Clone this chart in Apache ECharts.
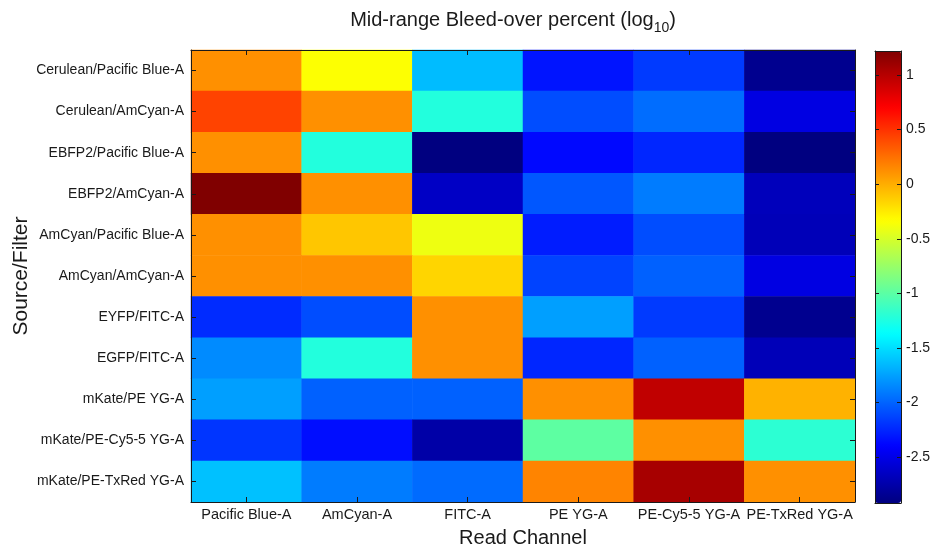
<!DOCTYPE html>
<html>
<head>
<meta charset="utf-8">
<script src="https://cdn.jsdelivr.net/npm/echarts@6/dist/echarts.min.js"></script>
<style>
  html, body { margin: 0; padding: 0; background: #ffffff; }
  #chart { width: 932px; height: 548px; }
</style>
</head>
<body>
<div id="chart"></div>
<script>
// Read channels (columns) and source/filter pairs (rows, top to bottom)
const readChannels = ['Pacific Blue-A', 'AmCyan-A', 'FITC-A', 'PE YG-A', 'PE-Cy5-5 YG-A', 'PE-TxRed YG-A'];
const sourceFilters = [
  'Cerulean/Pacific Blue-A', 'Cerulean/AmCyan-A', 'EBFP2/Pacific Blue-A', 'EBFP2/AmCyan-A',
  'AmCyan/Pacific Blue-A', 'AmCyan/AmCyan-A', 'EYFP/FITC-A', 'EGFP/FITC-A',
  'mKate/PE YG-A', 'mKate/PE-Cy5-5 YG-A', 'mKate/PE-TxRed YG-A'
];

// Mid-range bleed-over, log10 percent, one list per source/filter in read-channel order
const ceruleanPacificBlue = [0.12, -0.34, -1.64, -2.32, -2.17, -2.86];
const ceruleanAmCyan      = [0.43, 0.12, -1.23, -2.09, -1.96, -2.52];
const ebfp2PacificBlue    = [0.12, -1.23, -2.92, -2.37, -2.25, -2.92];
const ebfp2AmCyan         = [1.22, 0.12, -2.64, -2.05, -1.90, -2.68];
const amcyanPacificBlue   = [0.12, -0.10, -0.40, -2.29, -2.09, -2.69];
const amcyanAmCyan        = [0.12, 0.12, -0.16, -2.13, -2.01, -2.52];
const eyfpFitc            = [-2.23, -2.09, 0.12, -1.76, -2.17, -2.86];
const egfpFitc            = [-1.84, -1.23, 0.12, -2.25, -2.01, -2.69];
const mkatePe             = [-1.76, -2.01, -2.01, 0.12, 0.96, -0.02];
const mkatePeCy55         = [-2.19, -2.35, -2.76, -0.99, 0.12, -1.19];
const mkatePeTxRed        = [-1.62, -1.90, -1.97, 0.17, 1.06, 0.12];

const rowValues = [
  ceruleanPacificBlue, ceruleanAmCyan, ebfp2PacificBlue, ebfp2AmCyan,
  amcyanPacificBlue, amcyanAmCyan, eyfpFitc, egfpFitc,
  mkatePe, mkatePeCy55, mkatePeTxRed
];

// Colour scale limits and colour-bar tick labels
const scaleMin = -2.92;
const scaleMax = 1.22;
const colorbarTicks = [1, 0.5, 0, -0.5, -1, -1.5, -2, -2.5];

// Jet colour map: piecewise linear, evenly spaced knots
const jet = ['#000080', '#0000ff', '#0080ff', '#00ffff', '#80ff80', '#ffff00', '#ff8000', '#ff0000', '#800000'];

const cells = [];
rowValues.forEach((vals, r) => vals.forEach((v, c) => cells.push([c, r, v])));

const FONT = '"Liberation Sans", Arial, Helvetica, sans-serif';
const INK = '#1a1a1a';

// Fresh style objects for each axis (ECharts merges into option objects)
const tick = () => ({ show: true, inside: true, length: 5, alignWithLabel: true, lineStyle: { color: INK, width: 1 } });
const line = () => ({ show: true, onZero: false, lineStyle: { color: INK, width: 1 } });
const AXIS_Z = 10;

const chart = echarts.init(document.getElementById('chart'), null, { renderer: 'canvas' });

chart.setOption({
  animation: false,
  backgroundColor: '#ffffff',
  textStyle: { fontFamily: FONT },
  graphic: [{
    type: 'text',
    x: 513,
    y: 10,
    z: 20,
    style: {
      text: '{a|Mid-range Bleed-over percent (log}{s|10}{a|)}',
      align: 'center',
      verticalAlign: 'top',
      rich: {
        a: { fontFamily: FONT, fontSize: 20, lineHeight: 25, verticalAlign: 'top', fill: INK },
        s: { fontFamily: FONT, fontSize: 14, lineHeight: 14, padding: [15, 0, 0, 0], verticalAlign: 'bottom', fill: INK }
      }
    }
  }],
  grid: [
    { left: 191, top: 50, width: 664, height: 452, outerBoundsMode: 'none', containLabel: false },
    { left: 875, top: 51, width: 26, height: 452, outerBoundsMode: 'none', containLabel: false }
  ],
  xAxis: [
    {
      type: 'category', gridIndex: 0, data: readChannels, position: 'bottom', z: AXIS_Z,
      axisLine: line(), axisTick: tick(), splitLine: { show: false },
      axisLabel: { color: INK, fontSize: 14.5, fontFamily: FONT, margin: 5, interval: 0 },
      name: 'Read Channel', nameLocation: 'middle', nameGap: 26, nameMoveOverlap: false,
      nameTextStyle: { color: INK, fontSize: 20, fontFamily: FONT }
    },
    {
      type: 'category', gridIndex: 0, data: readChannels, position: 'top', z: AXIS_Z,
      axisLine: line(), axisTick: tick(), axisLabel: { show: false }, splitLine: { show: false }
    },
    {
      type: 'value', gridIndex: 1, position: 'bottom', min: 0, max: 1, z: AXIS_Z,
      axisLine: line(), axisTick: { show: false }, axisLabel: { show: false }, splitLine: { show: false }
    },
    {
      type: 'value', gridIndex: 1, position: 'top', min: 0, max: 1, z: AXIS_Z,
      axisLine: line(), axisTick: { show: false }, axisLabel: { show: false }, splitLine: { show: false }
    }
  ],
  yAxis: [
    {
      type: 'category', gridIndex: 0, data: sourceFilters, inverse: true, position: 'left', z: AXIS_Z,
      axisLine: line(), axisTick: tick(), splitLine: { show: false },
      axisLabel: { color: INK, fontSize: 14, fontFamily: FONT, margin: 7, interval: 0 },
      name: 'Source/Filter', nameLocation: 'middle', nameGap: 159, nameRotate: 90, nameMoveOverlap: false,
      nameTextStyle: { color: INK, fontSize: 21, fontFamily: FONT }
    },
    {
      type: 'category', gridIndex: 0, data: sourceFilters, inverse: true, position: 'right', z: AXIS_Z,
      axisLine: line(), axisTick: tick(), axisLabel: { show: false }, splitLine: { show: false }
    },
    {
      type: 'value', gridIndex: 1, position: 'left', min: scaleMin, max: scaleMax, z: AXIS_Z,
      axisLine: line(),
      axisTick: { show: true, inside: true, length: 4, customValues: colorbarTicks, lineStyle: { color: INK } },
      axisLabel: { show: false }, splitLine: { show: false }
    },
    {
      type: 'value', gridIndex: 1, position: 'right', min: scaleMin, max: scaleMax, z: AXIS_Z,
      axisLine: line(),
      axisTick: { show: true, inside: true, length: 4, customValues: colorbarTicks, lineStyle: { color: INK } },
      axisLabel: { show: true, customValues: colorbarTicks, color: INK, fontSize: 14, fontFamily: FONT, margin: 5 },
      splitLine: { show: false }
    }
  ],
  visualMap: {
    type: 'continuous',
    seriesIndex: 0,
    min: scaleMin,
    max: scaleMax,
    calculable: false,
    hoverLink: false,
    left: 875,
    top: 51,
    padding: 0,
    z: 4,
    itemWidth: 26,
    itemHeight: 452,
    inRange: { color: jet }
  },
  series: [{
    type: 'heatmap',
    xAxisIndex: 0,
    yAxisIndex: 0,
    z: 1,
    data: cells,
    itemStyle: { borderWidth: 0 },
    emphasis: { disabled: true },
    label: { show: false }
  }]
});
</script>
</body>
</html>
